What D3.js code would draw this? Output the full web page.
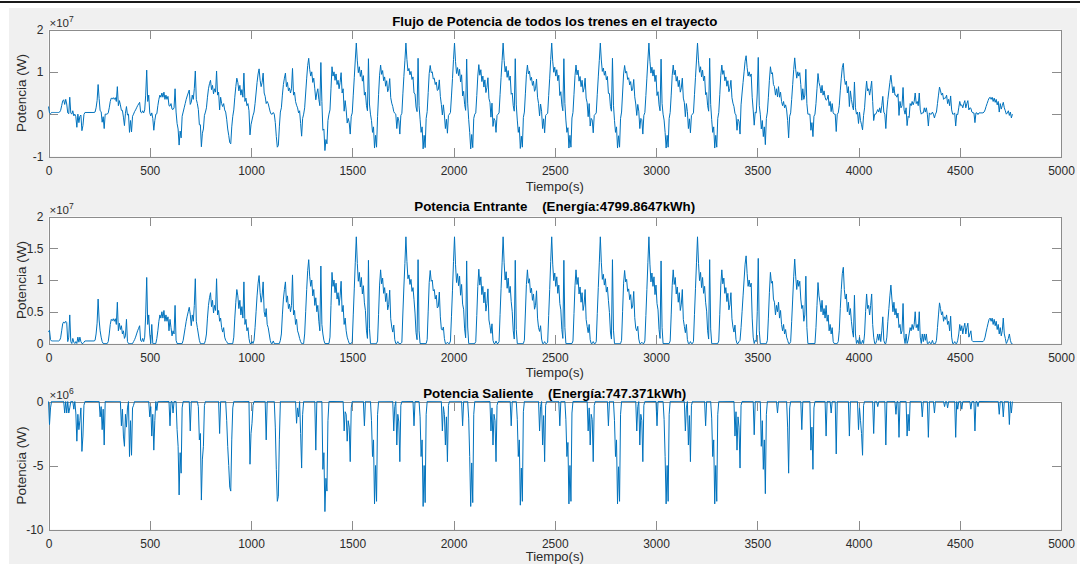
<!DOCTYPE html>
<html>
<head>
<meta charset="utf-8">
<script src="https://cdn.jsdelivr.net/npm/d3@7"></script>
<style>
  html, body { margin: 0; padding: 0; background: #fff; }
  svg { display: block; }
  text { font-family: "Liberation Sans", Arial, Helvetica, sans-serif; }
  .eje path.domain, .eje line { stroke: #8c8c8c; stroke-width: 1; shape-rendering: crispEdges; }
  .eje text { fill: #2b2b2b; font-size: 12px; }
</style>
</head>
<body>
<svg id="fig" width="1080" height="564"></svg>
<script>
// ---------------------------------------------------------------------------
// Data: traction power of all trains on the line, sampled every 5 s (MW).
// ---------------------------------------------------------------------------
const paso = 5; // seconds between samples

// Incoming power (MW), 0 – 1495 s
const inicioEntrante = [
  1.8,2.1,0.6,0.4,0.4,0.4,0.4,0.4,0.4,0.4,0.4,0.5,0.9,2.0,3.1,3.4,3.2,3.5,3.3,0.3,
  1.0,4.5,0.3,0,0.8,0.2,0,0.3,0,1.0,0.2,1.0,0.3,0,0,0.2,0.4,0.4,0.4,0.4,
  0.4,0.4,0.4,0.4,0.4,0.4,0.5,1.5,3.2,7.0,3.7,2.0,1.0,0.3,0,0,0,0,0,0.3,
  1.5,3.0,3.8,3.6,3.9,3.5,3.9,3.0,6.5,2.0,3.2,2.2,2.8,1.5,2.0,0.8,1.2,3.8,0.3,0,
  0,0,0,0,0.3,0.6,1.0,1.5,2.0,2.4,2.8,0.5,0.3,0.8,0.3,1.0,4.5,10.4,3.0,4.5,
  1.5,0,3.0,0,0,0,0,0.8,2.0,3.5,4.5,4.0,5.0,4.0,5.2,3.5,4.5,3.5,4.2,2.0,
  3.8,2.5,1.2,2.0,1.5,6.0,0.5,0,0,0,0,0,0,0.5,1.5,2.5,3.5,4.3,5.0,5.7,
  4.6,2.8,4.5,3.5,6.0,10.2,3.5,2.5,1.5,0.5,0,0,0,0,0,0.5,1.5,4.0,6.0,7.2,
  8.0,5.8,6.8,4.8,6.0,5.2,10.2,4.5,5.2,3.5,4.0,2.5,1.8,2.5,1.0,0.5,0.3,0,0,0,
  0,0,0,1.0,4.0,6.5,8.5,7.5,5.5,6.8,4.5,5.8,4.0,9.7,3.0,3.8,2.0,2.5,0.8,0,
  0,0.3,0,0.5,2.5,5.0,7.5,9.5,10.7,8.0,6.5,7.5,9.7,5.0,4.2,5.5,3.0,2.5,1.5,0.5,
  0,0,0.4,0,0,0,0,0,0,0.5,1.5,4.5,7.0,8.5,9.7,6.5,7.5,5.5,6.2,5.0,
  6.0,10.8,4.5,5.2,3.0,3.8,2.0,1.5,0.8,0.3,0,0,0,1.5,5.0,8.5,11.5,13.2,10.5,9.0,
  10.0,7.5,8.5,6.0,7.2,5.0,6.0,3.5,2.0,12.2,3.0,1.5,0.5,0,0,0,0,0,1.0,6.0,
  11.2,9.0,10.0,8.0,9.5,7.0,8.0,6.0,7.5,9.8,5.0,6.0,3.0,4.0,2.0,1.0,0.5,0,0,0
];

// Incoming power (MW) in the regular-service cycles; each list starts at the
// matching time in ciclosInicio (s)
const ciclosInicio = [1500, 1745, 1985, 2225, 2465, 2705, 2945, 3185];
const ciclosEntrante = [
  [0.3,4.5,8.6,12.8,16.8,12.6,9.8,11.2,8.9,10.4,7.8,9.1,6.4,5.2,2.1,0.8,13.1,2.4,0,0,0,0,0,0,0,0.4,4.6,9.2,11.6,9.4,10.3,7.9,8.8,6.6,7.9,5.3,6.1,8.4,3.9,2.6,1.8,2.9,0.6,0,0,0.3,0,0],
  [0.2,4.8,8.9,12.6,16.8,12.9,10.2,10.8,9.3,10.1,8.2,8.8,6.9,4.8,1.7,0.6,13.2,2.0,0,0,0,0,0,0,0,0.6,5.1,9.6,11.5,9.8,10.0,8.3,8.5,7.0,7.6,5.6,5.8,8.1,4.2,2.3,2.1,2.6,0.8,0,0,0.2,0,0],
  [0.4,4.3,8.4,12.9,16.8,12.4,9.6,11.0,9.1,10.6,7.6,9.3,6.2,5.4,2.3,0.9,13.0,2.6,0,0,0,0,0,0,0,0.3,4.4,9.0,11.7,9.2,10.5,7.7,9.0,6.4,8.1,5.1,6.3,8.6,3.7,2.8,1.6,3.1,0.5,0,0,0.4,0,0],
  [0.3,4.6,8.7,12.7,16.8,12.7,10.0,11.3,8.7,10.3,8.0,9.0,6.6,5.0,2.0,0.7,13.1,2.2,0,0,0,0,0,0,0,0.5,4.8,9.3,11.6,9.5,10.2,8.0,8.7,6.8,7.8,5.4,6.0,8.3,4.0,2.5,1.9,2.8,0.7,0,0,0.3,0,0],
  [0.2,4.4,8.5,12.9,16.8,12.5,9.9,11.1,9.0,10.5,7.9,9.2,6.3,5.3,2.2,0.8,13.1,2.5,0,0,0,0,0,0,0,0.4,4.7,9.1,11.6,9.3,10.4,7.8,8.9,6.5,8.0,5.2,6.2,8.5,3.8,2.7,1.7,3.0,0.6,0,0,0.3,0,0],
  [0.3,4.7,8.8,12.7,16.8,12.8,10.1,10.9,9.2,10.2,8.1,8.9,6.8,4.9,1.8,0.7,13.2,2.1,0,0,0,0,0,0,0,0.5,5.0,9.5,11.5,9.7,10.1,8.2,8.6,6.9,7.7,5.5,5.9,8.2,4.1,2.4,2.0,2.7,0.7,0,0,0.2,0,0],
  [0.4,4.4,8.5,12.8,16.8,12.5,9.7,11.1,9.0,10.5,7.7,9.2,6.3,5.3,2.2,0.8,13.0,2.5,0,0,0,0,0,0,0,0.4,4.5,9.1,11.6,9.3,10.4,7.8,8.9,6.5,8.0,5.2,6.2,8.5,3.8,2.7,1.7,3.0,0.6,0,0,0.3,0,0],
  [0.3,4.6,8.7,12.8,16.8,12.6,9.9,11.2,8.8,10.4,7.9,9.0,6.5,5.1,2.0,0.7,13.2,2.3,0,0,0,0,0,0,0,0.4,4.6,9.2,11.6,9.4,10.3,7.9,8.8,6.6,7.9,5.3,6.1,8.0,3.9,2.6,1.8,2.9,0.6,0,0,0.3]
];

// Incoming power (MW) from 3415 s to the end of the run
const inicioFinal = 3415;
const finalEntrante = [
  0.5,2.5,5.0,7.5,10.0,12.5,13.8,11.0,9.0,10.0,8.9,9.5,4.0,1.0,0,0.5,0.3,5.0,13.4,2.0,
  0,0,0,0,0,0,0,0.5,4.0,8.0,11.2,9.5,9.8,7.0,6.5,4.5,6.0,5.0,6.5,4.0,
  5.2,3.0,2.0,3.0,1.5,2.2,1.0,0.5,0,0,0.3,3.5,7.0,10.5,13.3,10.5,8.5,10.0,9.0,9.8,
  7.0,5.5,6.0,3.5,4.5,10.6,2.5,0,0,0,0,0,0,0,0,2.5,6.0,9.6,7.5,6.5,
  5.0,6.8,4.5,5.5,4.0,6.0,3.5,4.5,2.0,3.0,1.5,2.5,0.3,0,0,0,0,0.3,2.0,5.5,
  8.5,11.0,12.0,8.5,7.0,7.8,5.0,6.5,4.5,5.5,3.5,2.0,1.0,7.6,1.5,0,0.5,0,1.0,0,
  0,0.5,0,1.5,5.0,7.8,5.5,6.0,4.5,6.0,7.8,3.0,1.0,0,0,0.5,1.5,0.5,1.5,0.3,
  2.0,4.2,0.5,0,0,1.0,3.5,5.5,7.5,9.2,7.0,5.0,6.5,4.5,5.5,4.0,4.8,2.5,3.0,1.5,
  2.0,6.3,1.0,0,1.5,0,0.5,1.5,2.5,2.0,3.0,2.2,3.0,5.0,2.5,3.0,2.0,5.0,1.0,0,
  1.5,0.3,1.5,0.5,1.5,0,0,0.3,0,0,0.5,0,0,0,0.5,2.5,4.5,6.4,5.5,4.5,
  5.0,3.5,4.2,3.8,4.5,3.0,3.5,2.0,4.3,1.0,0,0,0.3,0,0,0.5,1.5,3.0,2.0,2.8,
  1.5,2.5,3.2,1.5,2.5,3.2,1.0,1.5,2.0,0.5,0.3,0.3,0.3,0.3,0.3,0.3,0.3,0.3,0.3,0.3,
  0.3,0.5,1.0,1.8,2.5,3.2,3.8,4.0,3.5,4.0,3.0,3.8,2.8,3.5,2.2,3.0,1.5,2.5,1.2,2.0,
  4.0,1.5,0.8,0,0.3,0.8,1.5,0.5,0,0
];

// Outgoing (regenerated) power, [time s, MW]; every other sample is zero
const saliente = [
  [5,-1.8],[10,-0.5],[80,-0.9],[90,-0.9],[100,-0.9],[105,-0.5],[125,-0.6],[135,-0.9],
  [140,-3.1],[145,-1.0],[150,-2.2],[155,-1.5],[160,-0.5],[165,-3.9],[170,-2.7],[175,-0.3],
  [255,-1.2],[260,-0.4],[265,-2.2],[270,-0.6],[275,-3.4],
  [360,-1.9],[365,-0.6],[370,-2.7],[375,-3.5],[380,-1.0],[385,-2.0],[390,-0.5],[400,-4.3],[405,-1.5],[410,-4.2],[415,-0.5],[420,-0.3],
  [500,-1.2],[505,-0.4],[510,-2.7],[515,-1.0],[520,-3.8],[525,-1.5],[535,-0.7],
  [600,-1.9],[615,-0.9],[635,-2.2],[640,-3.5],[645,-7.3],[650,-4.0],[655,-5.6],[660,-0.5],
  [700,-2.3],
  [740,-0.4],[745,-3.0],[750,-2.5],[755,-7.7],[760,-4.5],[765,-3.5],[770,-0.3],
  [845,-2.5],
  [880,-1.5],[885,-3.5],[890,-5.0],[895,-6.7],[900,-7.0],[905,-3.0],[910,-0.5],
  [995,-4.9],[1000,-2.5],[1005,-1.7],[1010,-0.3],
  [1075,-3.0],
  [1120,-2.0],[1125,-5.3],[1130,-7.8],[1135,-7.4],[1140,-3.0],
  [1225,-1.7],[1230,-0.5],[1235,-1.2],[1245,-2.5],[1250,-5.2],[1255,-1.0],
  [1320,-3.8],
  [1355,-5.3],[1360,-4.0],[1365,-8.6],[1370,-6.0],[1375,-7.0],[1380,-1.5],
  [1460,-2.3],[1465,-0.8],[1470,-1.0],[1475,-3.1],[1480,-1.5],[1485,-2.0],[1490,-4.7],[1495,-0.5],
  [1560,-1.9],[1595,-1.5],[1600,-4.3],[1605,-3.0],[1610,-8.0],[1615,-5.0],[1620,-7.8],[1625,-1.0],
  [1705,-2.3],[1710,-0.4],[1720,-3.4],[1725,-1.0],[1730,-1.6],[1735,-4.7],[1740,-0.3],
  [1805,-1.9],[1835,-1.2],[1840,-4.3],[1845,-3.0],[1850,-8.2],[1855,-5.0],[1860,-7.9],[1865,-1.0],
  [1945,-2.3],[1950,-0.4],[1955,-1.0],[1960,-3.4],[1965,-1.2],[1970,-4.7],[1975,-0.3],
  [2045,-1.9],[2075,-1.3],[2080,-4.3],[2085,-8.2],[2090,-4.8],[2095,-7.9],[2100,-1.0],
  [2185,-2.3],[2190,-0.5],[2195,-3.4],[2200,-1.0],[2205,-1.5],[2210,-4.7],[2215,-0.3],
  [2285,-1.9],[2315,-1.4],[2320,-4.3],[2325,-3.0],[2330,-8.1],[2335,-5.2],[2340,-7.8],[2345,-0.8],
  [2425,-2.3],[2430,-0.4],[2440,-3.4],[2445,-1.1],[2450,-4.7],[2455,-0.3],
  [2525,-1.9],[2555,-1.4],[2560,-4.3],[2565,-3.2],[2570,-8.0],[2575,-5.0],[2580,-7.8],[2585,-0.9],
  [2665,-2.3],[2670,-0.5],[2675,-3.4],[2680,-1.0],[2685,-1.4],[2690,-4.7],[2695,-0.3],
  [2765,-1.9],[2795,-1.5],[2800,-4.3],[2805,-3.0],[2810,-8.0],[2815,-5.1],[2820,-7.8],[2825,-1.0],
  [2905,-2.3],[2910,-0.4],[2920,-3.4],[2925,-1.0],[2930,-1.5],[2935,-4.7],[2940,-0.3],
  [3005,-1.9],[3040,-1.4],[3045,-4.3],[3050,-8.0],[3055,-5.0],[3060,-7.8],[3065,-1.0],
  [3145,-2.3],[3150,-0.5],[3160,-3.4],[3165,-1.1],[3170,-4.7],[3175,-0.3],
  [3245,-1.9],[3275,-1.3],[3280,-4.3],[3285,-3.0],[3290,-8.0],[3295,-5.0],[3300,-7.8],[3305,-1.0],
  [3390,-2.7],[3395,-0.8],[3400,-3.8],[3405,-1.2],[3410,-2.0],[3415,-5.2],[3420,-0.3],
  [3485,-2.6],
  [3520,-3.5],[3525,-1.5],[3530,-5.3],[3535,-3.0],[3540,-7.2],[3545,-1.0],
  [3600,-0.9],
  [3650,-2.0],[3655,-5.6],[3660,-0.5],
  [3720,-2.2],
  [3765,-3.8],[3770,-2.0],[3775,-5.3],[3780,-0.5],
  [3840,-2.7],[3865,-0.9],[3890,-4.1],
  [3955,-2.7],
  [4000,-2.2],[4005,-0.5],[4010,-1.5],[4015,-2.5],[4020,-4.2],[4025,-0.3],
  [4075,-2.5],[4095,-0.4],
  [4135,-3.4],
  [4185,-1.0],[4200,-2.8],
  [4240,-2.7],[4245,-1.0],[4250,-2.3],
  [4315,-1.2],[4345,-2.8],[4375,-0.9],
  [4425,-0.4],[4440,-0.5],
  [4480,-2.8],[4490,-0.6],[4510,-0.6],
  [4555,-0.6],[4575,-2.3],[4590,-0.4],
  [4695,-1.0],[4715,-1.2],[4745,-1.8],[4755,-0.9]
];

// Axis ticks
const ticksTiempo = [0, 500, 1000, 1500, 2000, 2500, 3000, 3500, 4000, 4500, 5000];
const ticksFlujo = [-1, 0, 1, 2];            // ×10^7 W
const ticksEntrante = [0, 0.5, 1, 1.5, 2];   // ×10^7 W
const ticksSaliente = [-10, -5, 0];          // ×10^6 W

const titulos = [
  "Flujo de Potencia de todos los trenes en el trayecto",
  "Potencia Entrante    (Energía:4799.8647kWh)",
  "Potencia Saliente    (Energía:747.371kWh)"
];
const etiquetaX = "Tiempo(s)";
const etiquetaY = "Potencia (W)";

// ---------------------------------------------------------------------------
// Build the three series on a common time base
// ---------------------------------------------------------------------------
const entranteMW = new Map();
inicioEntrante.forEach((v, i) => entranteMW.set(i * paso, v));
ciclosEntrante.forEach((c, k) => c.forEach((v, i) => entranteMW.set(ciclosInicio[k] + i * paso, v)));
finalEntrante.forEach((v, i) => entranteMW.set(inicioFinal + i * paso, v));
const salienteMW = new Map(saliente);

const tiempos = Array.from(new Set([...entranteMW.keys(), ...salienteMW.keys()])).sort((a, b) => a - b);
const serieEntrante = tiempos.map(t => ({ t, v: (entranteMW.get(t) || 0) * 1e6 }));
const serieSaliente = tiempos.map(t => ({ t, v: (salienteMW.get(t) || 0) * 1e6 }));
// net flow = incoming + outgoing power
const serieFlujo = tiempos.map((t, i) => ({ t, v: serieEntrante[i].v + serieSaliente[i].v }));

// ---------------------------------------------------------------------------
// Figure
// ---------------------------------------------------------------------------
const W = 1080, H = 564;
const svg = d3.select("#fig");
svg.append("rect").attr("width", W).attr("height", H).attr("fill", "#ffffff");
svg.append("rect").attr("x", 9).attr("y", 8).attr("width", 1068).attr("height", H - 8).attr("fill", "#f0f0f0");
svg.append("rect").attr("x", 0).attr("y", 1).attr("width", W).attr("height", 2).attr("fill", "#1a1a1a");

const x = d3.scaleLinear().domain([0, 5000]).range([48.5, 1061]);
const [x0, x1] = x.range();

const paneles = [
  { top: 29.5, bottom: 156.5, dominio: [-1e7, 2e7], ticks: ticksFlujo, escala: 1e7, exp: "7",
    titulo: titulos[0], tituloY: 25.5, xlabY: 191, serie: serieFlujo },
  { top: 216.5, bottom: 343.5, dominio: [0, 2e7], ticks: ticksEntrante, escala: 1e7, exp: "7",
    titulo: titulos[1], tituloY: 211, xlabY: 377, serie: serieEntrante },
  { top: 401.5, bottom: 529.5, dominio: [-1e7, 0], ticks: ticksSaliente, escala: 1e6, exp: "6",
    titulo: titulos[2], tituloY: 397.5, xlabY: 561, serie: serieSaliente }
];

paneles.forEach(p => {
  const y = d3.scaleLinear().domain(p.dominio).range([p.bottom, p.top]);
  const g = svg.append("g");

  g.append("rect")
    .attr("x", x0).attr("y", p.top)
    .attr("width", x1 - x0).attr("height", p.bottom - p.top)
    .attr("fill", "#ffffff");

  const yTicks = p.ticks.map(v => v * p.escala);
  const yFmt = (d, i) => String(p.ticks[i]);

  g.append("g").attr("class", "eje").attr("transform", `translate(0,${p.bottom})`)
    .call(d3.axisBottom(x).tickValues(ticksTiempo).tickSizeInner(-9).tickSizeOuter(0)
      .tickPadding(9.5).tickFormat(d3.format("d")));
  g.append("g").attr("class", "eje").attr("transform", `translate(0,${p.top})`)
    .call(d3.axisTop(x).tickValues(ticksTiempo).tickSizeInner(-9).tickSizeOuter(0).tickFormat(""));
  g.append("g").attr("class", "eje").attr("transform", `translate(${x0},0)`)
    .call(d3.axisLeft(y).tickValues(yTicks).tickSizeInner(-9).tickSizeOuter(0)
      .tickPadding(5).tickFormat(yFmt));
  g.append("g").attr("class", "eje").attr("transform", `translate(${x1},0)`)
    .call(d3.axisRight(y).tickValues(yTicks).tickSizeInner(-9).tickSizeOuter(0).tickFormat(""));

  // power trace
  g.append("path")
    .datum(p.serie)
    .attr("fill", "none")
    .attr("stroke", "#0072bd")
    .attr("stroke-width", 1.0)
    .attr("stroke-linejoin", "round")
    .attr("d", d3.line().x(d => x(d.t)).y(d => y(d.v)));

  // exponent marker
  const e = g.append("text")
    .attr("x", x0 + 1).attr("y", p.top - 3)
    .attr("fill", "#2b2b2b").attr("font-size", 11.5);
  e.append("tspan").text("×10");
  e.append("tspan").attr("dy", -5).attr("font-size", 8.5).text(p.exp);

  // title
  g.append("text")
    .attr("x", (x0 + x1) / 2).attr("y", p.tituloY)
    .attr("text-anchor", "middle")
    .attr("font-size", 13.3).attr("font-weight", "bold")
    .attr("fill", "#000")
    .style("white-space", "pre")
    .text(p.titulo);

  // axis labels
  g.append("text")
    .attr("x", (x0 + x1) / 2).attr("y", p.xlabY)
    .attr("text-anchor", "middle").attr("font-size", 13).attr("fill", "#2b2b2b")
    .text(etiquetaX);
  g.append("text")
    .attr("transform", `translate(21.5,${(p.top + p.bottom) / 2}) rotate(-90)`)
    .attr("dy", "0.35em")
    .attr("text-anchor", "middle").attr("font-size", 13.5).attr("fill", "#2b2b2b")
    .text(etiquetaY);
});
</script>
</body>
</html>
